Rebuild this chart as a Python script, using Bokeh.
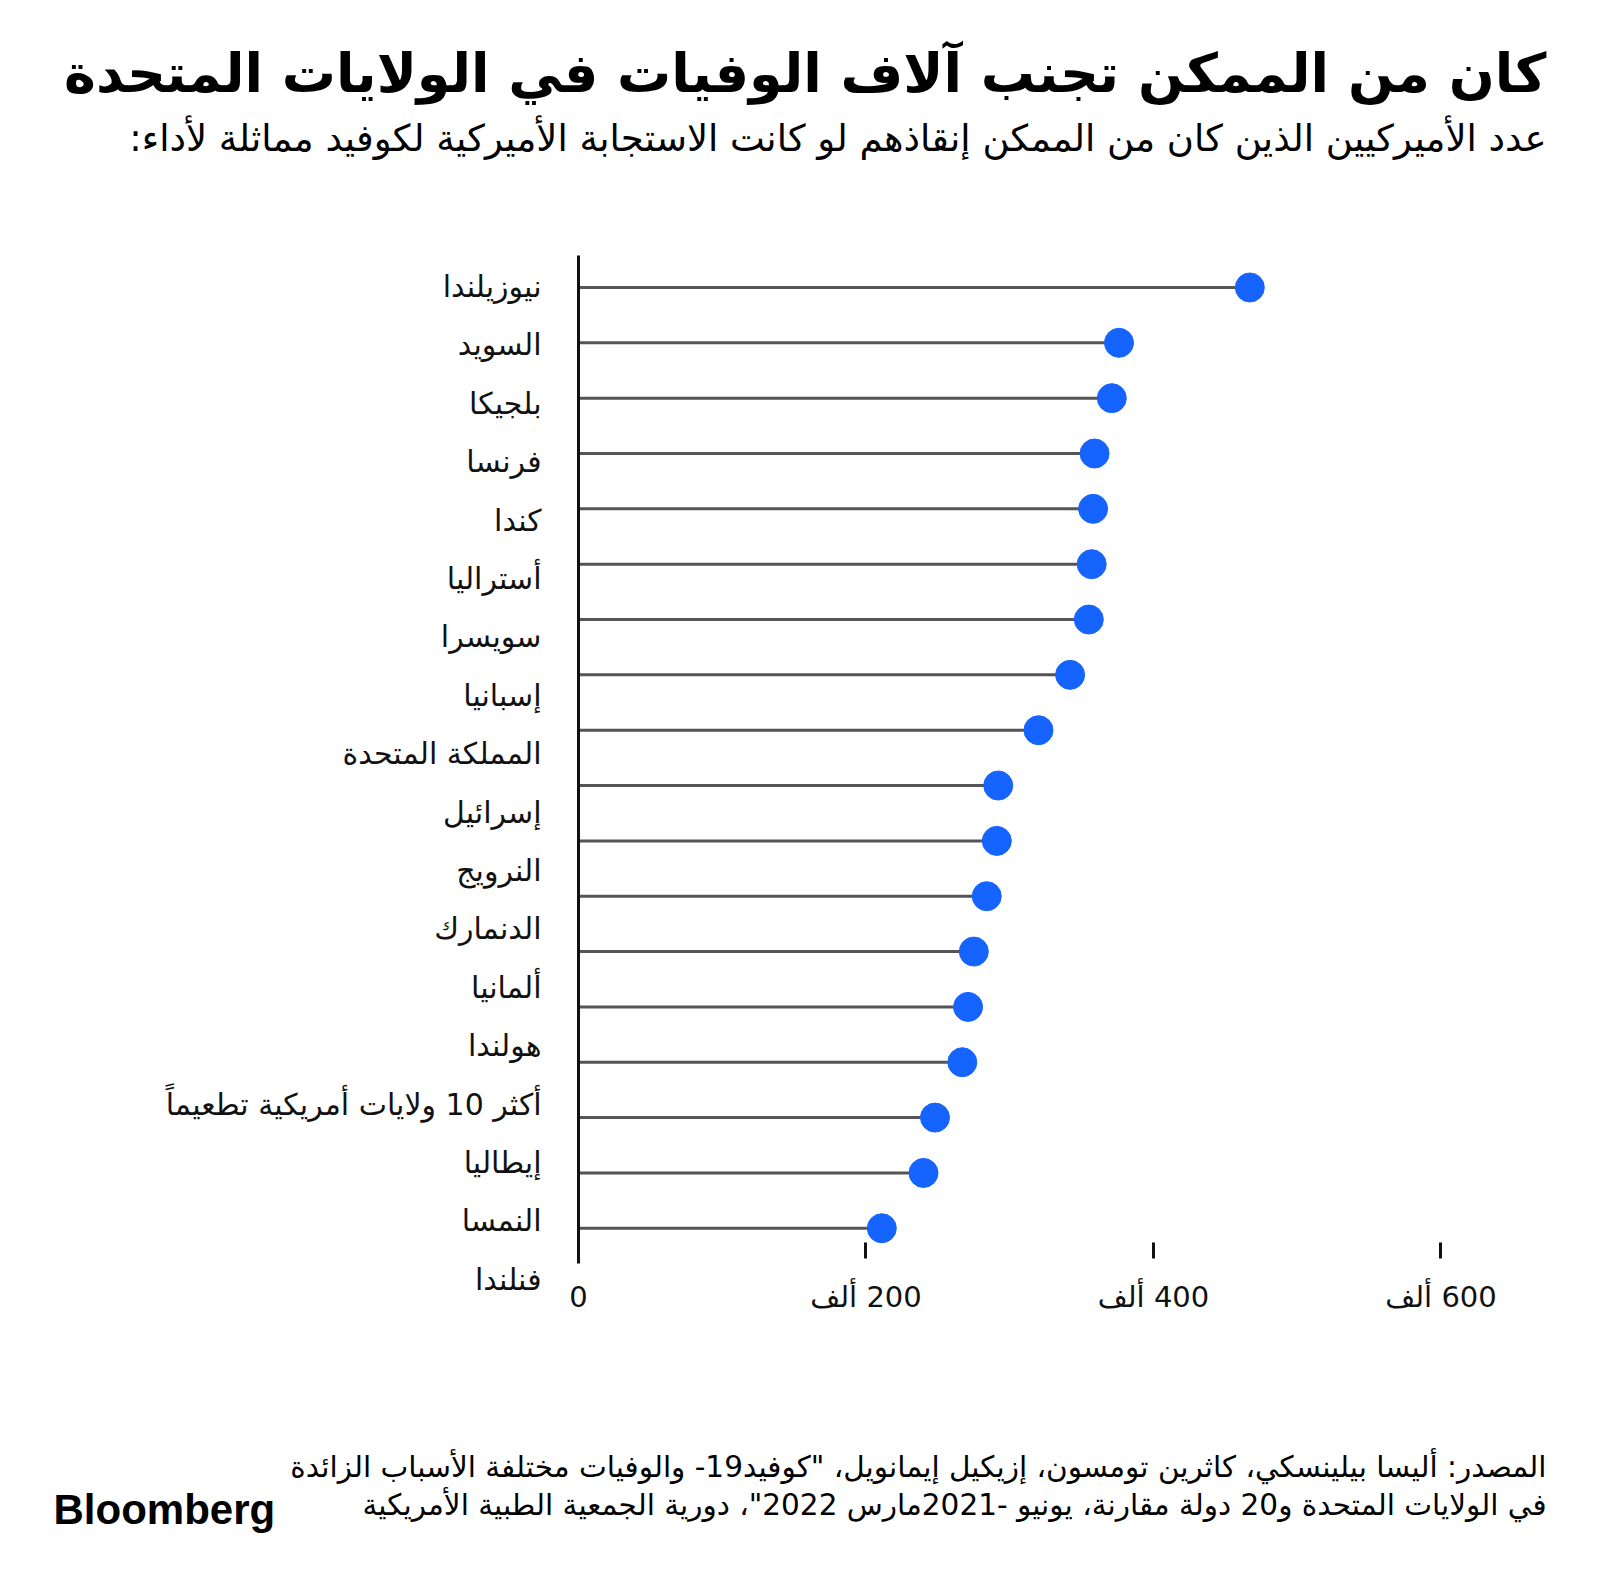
from bokeh.plotting import figure
from bokeh.models import (ColumnDataSource, Range1d, LinearAxis, FixedTicker, Label)
from bokeh.layouts import column
from bokeh.embed import file_html
from bokeh.resources import INLINE

RLM = "\u200f"

countries = [
    "نيوزيلندا", "السويد", "بلجيكا", "فرنسا", "كندا", "أستراليا", "سويسرا",
    "إسبانيا", "المملكة المتحدة", "إسرائيل", "النرويج", "الدنمارك", "ألمانيا",
    "هولندا", "أكثر 10 ولايات أمريكية تطعيماً", "إيطاليا", "النمسا", "فنلندا",
]
# avoidable US deaths, thousands
deaths_k = [467, 376, 371, 359, 358, 357, 355, 342, 320, 292, 291, 284, 275,
            271, 267, 248, 240, 211]

tick_values = [0, 200, 400, 600]
tick_labels = ["0", "200 ألف", "400 ألف", "600 ألف"]

title = "كان من الممكن تجنب آلاف الوفيات في الولايات المتحدة"
subtitle = "عدد الأميركيين الذين كان من الممكن إنقاذهم لو كانت الاستجابة الأميركية لكوفيد مماثلة لأداء:"
source1 = "المصدر: أليسا بيلينسكي، كاثرين تومسون، إزيكيل إيمانويل، \"كوفيد19- والوفيات مختلفة الأسباب الزائدة"
source2 = "في الولايات المتحدة و20 دولة مقارنة، يونيو -2021مارس 2022\"، دورية الجمعية الطبية الأمريكية"
logo = "Bloomberg"

AR_FONT = "DejaVu Sans"
W = 1584
H_HEAD, H_MAIN, H_FOOT = 200, 1200, 174


def no_align(f):
    try:
        f.frame_align = False
    except Exception:
        pass


def blank(height, y0):
    f = figure(width=W, height=height, output_backend="svg", toolbar_location=None,
               x_range=Range1d(0, W), y_range=Range1d(y0 + height, y0),
               x_axis_location=None, y_axis_location=None, min_border=0)
    f.outline_line_color = None
    f.grid.visible = False
    no_align(f)
    return f


def lab(f, text, x, y, size, align="right", bold=False, font=AR_FONT):
    f.add_layout(Label(text=text, x=x, y=y, text_align=align, text_baseline="middle",
                       text_font=font, text_font_size=size,
                       text_font_style="bold" if bold else "normal",
                       text_color="#000000"))


# ---------- header ----------
head = blank(H_HEAD, 0)
lab(head, RLM + title + RLM, 1546, 73, "54px", bold=True)
lab(head, RLM + subtitle + RLM, 1546, 138, "37px")

# ---------- main chart ----------
idx = list(range(len(countries)))
src = ColumnDataSource(dict(y=idx, x=deaths_k, zero=[0] * len(idx)))

p = figure(width=W, height=H_MAIN, output_backend="svg", toolbar_location=None,
           x_range=Range1d(0, 673.4), y_range=Range1d(17.962, -0.578),
           y_axis_location=None, x_axis_location="below",
           min_border_left=578, min_border_right=W - 1546, min_border_top=55,
           min_border_bottom=119)
p.outline_line_color = None
p.grid.visible = False
no_align(p)

# zero baseline drawn as an axis line
base_ax = LinearAxis(ticker=FixedTicker(ticks=[]), bounds=(-0.578, len(idx) - 1 + 0.637))
base_ax.axis_line_color = "#111111"
base_ax.axis_line_width = 3
base_ax.major_tick_line_color = None
base_ax.minor_tick_line_color = None
base_ax.major_tick_out = 0
base_ax.major_tick_in = 0
base_ax.major_label_text_font_size = "0px"
p.add_layout(base_ax, "left")

# category labels on their own scale (as laid out in the original)
p.extra_y_ranges = {"labels": Range1d(17.038, -0.531)}
yax = LinearAxis(y_range_name="labels", ticker=FixedTicker(ticks=idx))
yax.major_label_overrides = {i: RLM + c + RLM for i, c in zip(idx, countries)}
yax.axis_line_color = None
yax.major_tick_line_color = None
yax.major_tick_out = 0
yax.major_tick_in = 0
yax.minor_tick_line_color = None
yax.major_label_standoff = 37
yax.major_label_text_font = AR_FONT
yax.major_label_text_font_size = "30px"
yax.major_label_text_color = "#111111"
p.add_layout(yax, "left")

xax = p.xaxis[0]
xax.ticker = FixedTicker(ticks=tick_values)
xax.major_label_overrides = {v: RLM + t + RLM for v, t in zip(tick_values, tick_labels)}
xax.axis_line_color = None
xax.major_tick_in = 39
xax.major_tick_out = -23
xax.major_tick_line_width = 3
xax.major_tick_line_color = "#111111"
xax.minor_tick_line_color = None
xax.major_label_standoff = -2
xax.major_label_text_font = AR_FONT
xax.major_label_text_font_size = "29px"
xax.major_label_text_color = "#111111"

p.segment(x0="zero", y0="y", x1="x", y1="y", source=src, line_color="#555555",
          line_width=3)
p.scatter(x="x", y="y", source=src, size=29, fill_color="#1664ff", line_color="#1664ff")

# ---------- footer ----------
foot = blank(H_FOOT, H_HEAD + H_MAIN)
lab(foot, RLM + source1 + RLM, 1546, 1466, "29.5px")
lab(foot, RLM + source2 + RLM, 1546, 1504, "29.5px")
lab(foot, logo, 53, 1509, "42px", align="left", bold=True, font="Liberation Sans")

layout = column(head, p, foot, spacing=0)
open("out.html", "w").write(file_html(layout, INLINE))
